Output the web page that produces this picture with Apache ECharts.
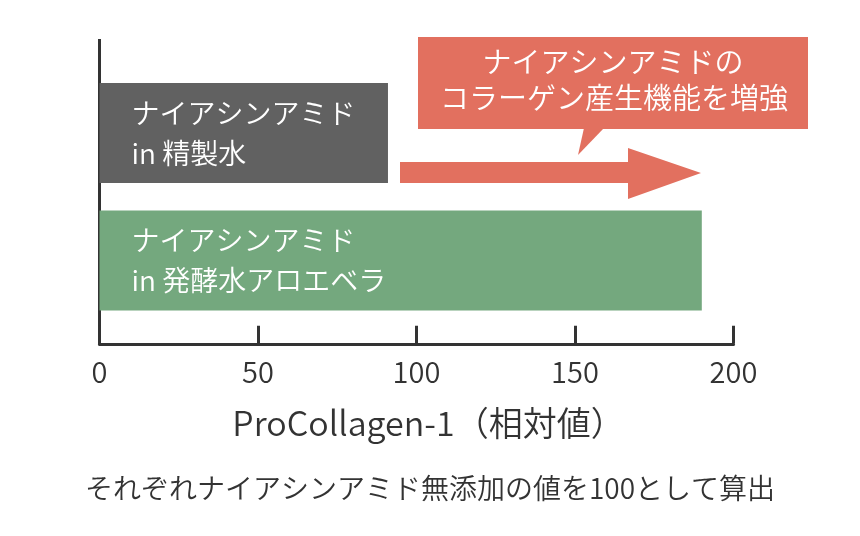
<!DOCTYPE html>
<html>
<head>
<meta charset="utf-8">
<style>
html,body{margin:0;padding:0;background:#fff;}
#chart{width:860px;height:536px;}
</style>
<script src="https://cdn.jsdelivr.net/npm/echarts@6/dist/echarts.min.js"></script>
</head>
<body>
<div id="chart"></div>
<script>
const categories = ['ナイアシンアミド\nin 精製水', 'ナイアシンアミド\nin 発酵水アロエベラ'];
const values = [91, 190];
const barColors = ['#616161', '#74a87e'];
const xMin = 0, xMax = 200, xInterval = 50;
const axisName = 'ProCollagen-1（相対値）';
const footnote = 'それぞれナイアシンアミド無添加の値を100として算出';
const calloutLines = ['ナイアシンアミドの', 'コラーゲン産生機能を増強'];

const FONT = '"Noto Sans CJK JP", "Noto Sans", sans-serif';
const RED = '#e2705f';
const W = 350;

const chart = echarts.init(document.getElementById('chart'), null, {renderer: 'canvas'});
chart.setOption({
  animation: false,
  backgroundColor: '#fff',
  textStyle: {fontFamily: FONT},
  title: {
    text: footnote,
    left: 'center',
    top: 469,
    textStyle: {fontFamily: FONT, fontSize: 28, fontWeight: W, color: '#333'}
  },
  grid: {left: 99.5, right: 126.5, top: 69.25, bottom: 211.75, containLabel: false},
  xAxis: {
    type: 'value',
    min: xMin, max: xMax, interval: xInterval,
    offset: 19.5,
    name: axisName,
    nameLocation: 'middle',
    nameGap: 62,
    nameTextStyle: {fontFamily: FONT, fontSize: 34, fontWeight: W, color: '#333', padding: [0, 0, 0, 24]},
    axisLine: {show: true, lineStyle: {color: '#333', width: 3}},
    axisTick: {show: true, inside: true, length: 18, lineStyle: {color: '#333', width: 3}},
    axisLabel: {fontFamily: FONT, fontSize: 29, fontWeight: W, color: '#333', margin: 14},
    splitLine: {show: false}
  },
  yAxis: {
    type: 'category',
    inverse: true,
    data: categories,
    axisLine: {show: false},
    axisTick: {show: false},
    axisLabel: {show: false},
    splitLine: {show: false}
  },
  series: [{
    type: 'bar',
    barWidth: 100,
    data: values.map((v, i) => ({value: v, itemStyle: {color: barColors[i]}})),
    label: {
      show: true,
      position: 'insideLeft',
      distance: 32,
      formatter: p => categories[p.dataIndex],
      fontFamily: FONT,
      fontSize: 28,
      fontWeight: W,
      lineHeight: 40,
      color: '#fff'
    }
  }],
  graphic: [
    {type: 'line', shape: {x1: 99.5, y1: 39, x2: 99.5, y2: 345}, style: {stroke: '#333', lineWidth: 3}},
    {type: 'polygon', shape: {points: [[400,162],[628,162],[628,148],[701,173],[628,199],[628,183],[400,183]]}, style: {fill: RED}},
    {type: 'rect', shape: {x: 418, y: 37, width: 390, height: 92}, style: {fill: RED}},
    {type: 'polygon', shape: {points: [[584,128],[604,128],[578,155]]}, style: {fill: RED}},
    {type: 'text', x: 613, y: 62, style: {text: calloutLines[0], fill: '#fff', font: W + ' 29px ' + FONT, textAlign: 'center', textVerticalAlign: 'middle'}},
    {type: 'text', x: 614, y: 98, style: {text: calloutLines[1], fill: '#fff', font: W + ' 29px ' + FONT, textAlign: 'center', textVerticalAlign: 'middle'}}
  ]
});
</script>
</body>
</html>
